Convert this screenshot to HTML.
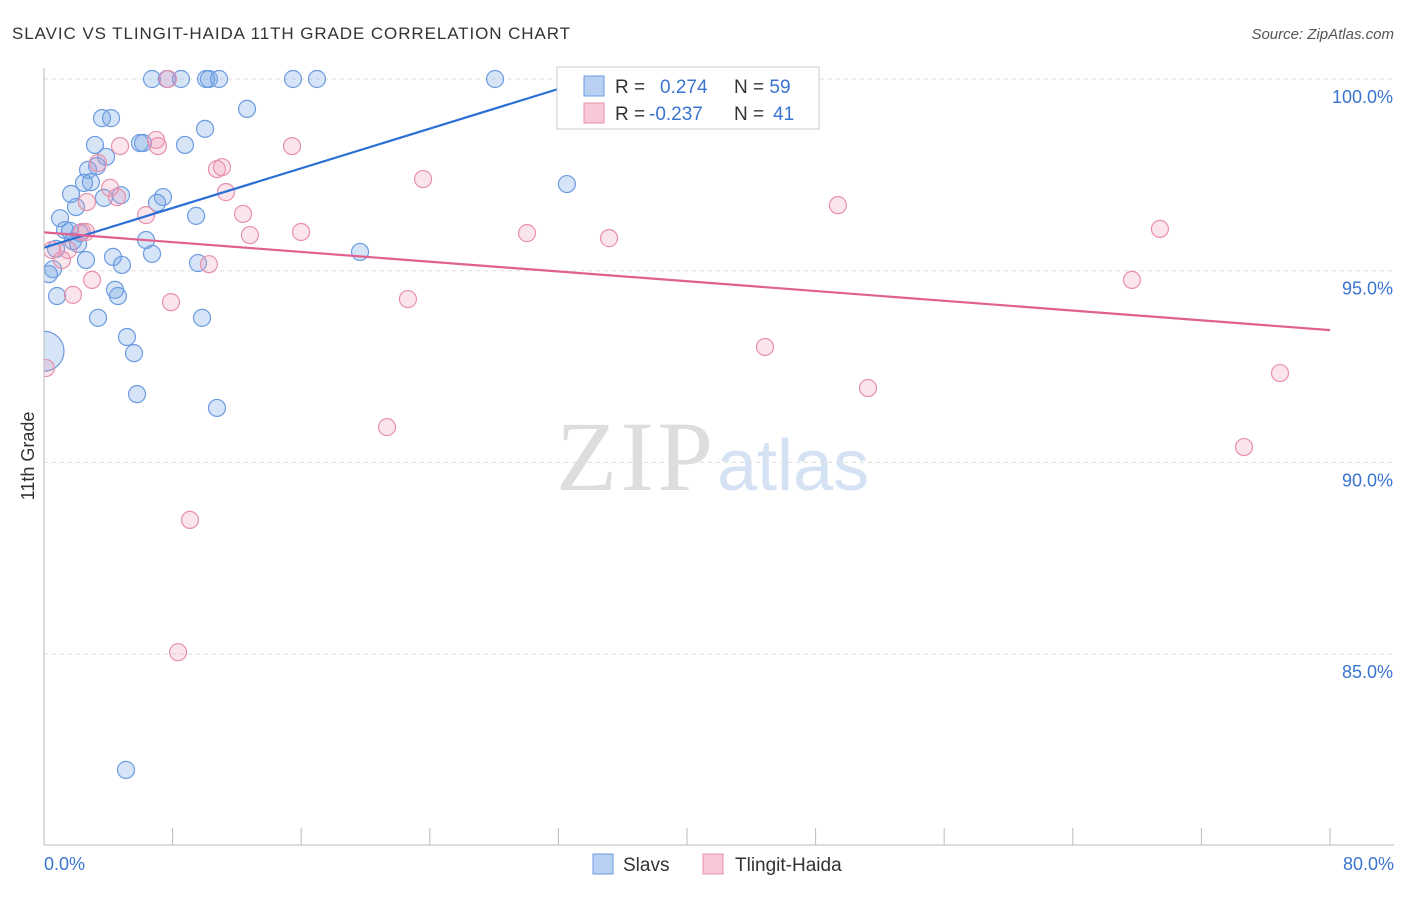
<!DOCTYPE html>
<html><head><meta charset="utf-8"><style>
body{margin:0;background:#fff;font-family:"Liberation Sans",sans-serif;}
svg text{font-family:"Liberation Sans",sans-serif;}
</style></head><body>
<svg id="c" width="1406" height="892">
<defs><clipPath id="plot"><rect x="44" y="40" width="1360" height="805"/></clipPath></defs>
<text x="12" y="39" font-size="17" fill="#333" textLength="558">SLAVIC VS TLINGIT-HAIDA 11TH GRADE CORRELATION CHART</text>
<text x="1394" y="39" font-size="15" fill="#555" text-anchor="end" font-style="italic">Source: ZipAtlas.com</text>
<text x="556" y="490" font-size="100" fill="#ddd" style="font-family:'Liberation Serif',serif" textLength="157">ZIP</text>
<text x="717" y="490" font-size="72" fill="#d4e2f4">atlas</text>
<g id="grid"></g><g id="pts" clip-path="url(#plot)"></g><g id="lines"></g>
<line x1="44" y1="68" x2="44" y2="845" stroke="#bbb"/>
<line x1="44" y1="845" x2="1394" y2="845" stroke="#bbb"/>
<text transform="translate(34,456) rotate(-90)" font-size="18" fill="#333" text-anchor="middle">11th Grade</text>
<text x="44" y="870" font-size="18" fill="#3a74d0">0.0%</text>
<text x="1394" y="870" font-size="18" fill="#3a74d0" text-anchor="end">80.0%</text>
<g>
<rect x="557" y="67" width="262" height="62" fill="#fff" stroke="#ccc"/>
<rect x="584" y="76" width="20" height="20" fill="#b8d1f3" stroke="#6c9be0"/>
<rect x="584" y="103" width="20" height="20" fill="#f8c8d6" stroke="#e890ab"/>
<text x="615" y="93" font-size="19" fill="#333">R = <tspan fill="#3a74d0" x="660">0.274</tspan><tspan x="734" fill="#333">N = </tspan><tspan fill="#3a74d0">59</tspan></text>
<text x="615" y="120" font-size="19" fill="#333">R = <tspan fill="#3a74d0" x="649">-0.237</tspan><tspan x="734" fill="#333">N = </tspan><tspan fill="#3a74d0" x="773">41</tspan></text>
</g>
<g>
<rect x="593" y="854" width="20" height="20" fill="#b8d1f3" stroke="#6c9be0"/>
<text x="623" y="871" font-size="19" fill="#333">Slavs</text>
<rect x="703" y="854" width="20" height="20" fill="#f8c8d6" stroke="#e890ab"/>
<text x="735" y="871" font-size="19" fill="#333">Tlingit-Haida</text>
</g>
</svg>
<script>
const yTicks=[100,95,90,85];
const xTicks=[0,8,16,24,32,40,48,56,64,72,80];
const slavsPx=[[152,79],[167,79],[181,79],[206,79],[209,79],[219,79],[293,79],[317,79],[495,79],[247,109],[102,118],[111,118],[205,129],[95,145],[185,145],[140,143],[143,143],[106,157],[97,166],[88,170],[84,183],[91,182],[71,194],[104,198],[121,195],[163,197],[157,203],[76,207],[60,218],[196,216],[567,184],[65,230],[70,231],[80,233],[73,241],[78,244],[146,240],[56,249],[152,254],[360,252],[86,260],[113,257],[122,265],[198,263],[53,269],[49,274],[57,296],[115,290],[118,296],[98,318],[202,318],[127,337],[134,353],[137,394],[217,408],[126,770]];
const tlingitPx=[[168,79],[632,79],[156,140],[120,146],[158,146],[292,146],[98,163],[217,169],[222,167],[423,179],[110,188],[226,192],[117,197],[87,202],[838,205],[146,215],[243,214],[82,232],[250,235],[301,232],[527,233],[609,238],[1160,229],[52,250],[62,260],[1132,280],[209,264],[92,280],[73,295],[171,302],[408,299],[765,347],[868,388],[1280,373],[46,368],[387,427],[1244,447],[190,520],[178,652],[86,232],[68,250]];
const toD=p=>[+((p[0]-44)/1286*80).toFixed(2),+(100-(p[1]-79)/191.7*5).toFixed(2)];
const slavsX=slavsPx.map(p=>toD(p)[0]), slavsY=slavsPx.map(p=>toD(p)[1]);
const tlingitX=tlingitPx.map(p=>toD(p)[0]), tlingitY=tlingitPx.map(p=>toD(p)[1]);
const bigSlavX=0, bigSlavY=92.9;
const slavFit=[[0,95.6],[34,100]];
const tlingitFit=[[0,96.0],[80,93.45]];
const X=v=>44+v/80*1286, Y=v=>79+(100-v)/5*191.7;
const NS='http://www.w3.org/2000/svg';
const g=document.getElementById('grid');
yTicks.forEach(t=>{
 const l=document.createElementNS(NS,'line');
 l.setAttribute('x1',44);l.setAttribute('x2',1394);l.setAttribute('y1',Y(t));l.setAttribute('y2',Y(t));
 l.setAttribute('stroke','#ddd');l.setAttribute('stroke-dasharray','4,4');
 
 
 g.appendChild(l);
 const tx=document.createElementNS(NS,'text');
 tx.setAttribute('x',1393);tx.setAttribute('y',Y(t)+24);tx.setAttribute('text-anchor','end');
 tx.setAttribute('font-size','18');tx.setAttribute('fill','#3a74d0');tx.textContent=t.toFixed(1)+'%';
 
 
 g.appendChild(tx);
});
xTicks.forEach(t=>{
 const l=document.createElementNS(NS,'line');
 l.setAttribute('x1',X(t));l.setAttribute('x2',X(t));l.setAttribute('y1',828);l.setAttribute('y2',845);
 l.setAttribute('stroke','#bbb');
 
 
 g.appendChild(l);
});
const pg=document.getElementById('pts');
function dot(x,y,r,f,s,name){
 const c=document.createElementNS(NS,'circle');
 c.setAttribute('cx',X(x));c.setAttribute('cy',Y(y));c.setAttribute('r',r);
 c.setAttribute('fill',f);c.setAttribute('stroke',s);c.setAttribute('stroke-width','1.2');
 
 
 pg.appendChild(c);
}
slavsX.forEach((x,i)=>dot(x,slavsY[i],8.5,'rgba(120,165,230,0.3)','#6c9be0','slavs-point'));
dot(bigSlavX,bigSlavY,20,'rgba(120,165,230,0.3)','#6c9be0','slavs-point');
tlingitX.forEach((x,i)=>dot(x,tlingitY[i],8.5,'rgba(240,150,180,0.25)','#e890ab','tlingit-point'));
const lg=document.getElementById('lines');
function line(f,col,name){
 const l=document.createElementNS(NS,'line');
 l.setAttribute('x1',X(f[0][0]));l.setAttribute('y1',Y(f[0][1]));l.setAttribute('x2',X(f[1][0]));l.setAttribute('y2',Y(f[1][1]));
 l.setAttribute('stroke',col);l.setAttribute('stroke-width','2.2');
 
 
 lg.appendChild(l);
}
line(slavFit,'#2a6fd6','slavs-trend-line');
line(tlingitFit,'#e0608e','tlingit-trend-line');
</script>
</body></html>
